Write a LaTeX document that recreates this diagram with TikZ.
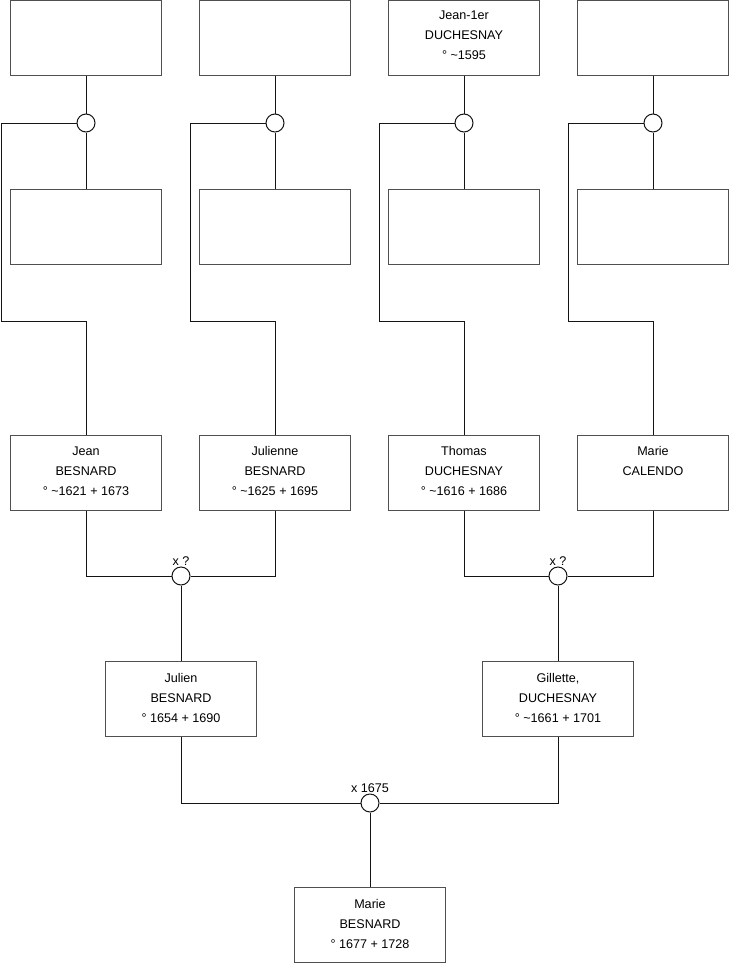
\documentclass[tikz,border=0pt]{standalone}
\usepackage{fontspec}
\setmainfont{Liberation Sans}
\definecolor{boxgray}{RGB}{80,80,80}
\definecolor{wiregray}{RGB}{20,20,20}
\begin{document}
\begin{tikzpicture}[x=1pt,y=-1pt,
  pbox/.style={rectangle, draw=boxgray, line width=1pt, fill=white, minimum width=151pt, minimum height=75pt, inner sep=0pt},
  ptext/.style={anchor=north, align=center, font=\fontsize{12.6}{20}\selectfont, inner sep=0pt},
  wire/.style={draw=wiregray, line width=1pt},
  knot/.style={circle, draw=wiregray, fill=white, minimum size=18pt, inner sep=0pt, line width=1pt},
  mlabel/.style={font=\fontsize{12.6}{15}\selectfont, inner sep=1pt, label distance=0pt}]
\useasboundingbox[fill=white] (0,0) rectangle (740,975);

% coordinates of the elbows
\coordinate (c1) at (1,321);
\coordinate (c2) at (190,321);
\coordinate (c3) at (379,321);
\coordinate (c4) at (568,321);

% top row (fathers of the grand-parents)
\node[pbox] (t1) at (86,38) {};
\node[pbox] (t2) at (275,38) {};
\node[pbox] (t3) at (464,38) {};
\node[pbox] (t4) at (653,38) {};
\node[ptext] at ([yshift=-11]t3.north) {Jean-1er\\DUCHESNAY\\° \textasciitilde 1595};

% second row (mothers)
\node[pbox] (s1) at (86,227) {};
\node[pbox] (s2) at (275,227) {};
\node[pbox] (s3) at (464,227) {};
\node[pbox] (s4) at (653,227) {};

% union knots of top generation
\node[knot] (k1) at (86,123) {};
\node[knot] (k2) at (275,123) {};
\node[knot] (k3) at (464,123) {};
\node[knot] (k4) at (653,123) {};

% grand-parents
\node[pbox] (p1) at (86,472.5) {};
\node[ptext] at ([yshift=-12]p1.north) {Jean\\BESNARD\\° \textasciitilde 1621 + 1673};
\node[pbox] (p2) at (275,472.5) {};
\node[ptext] at ([yshift=-12]p2.north) {Julienne\\BESNARD\\° \textasciitilde 1625 + 1695};
\node[pbox] (p3) at (464,472.5) {};
\node[ptext] at ([yshift=-12]p3.north) {Thomas\\DUCHESNAY\\° \textasciitilde 1616 + 1686};
\node[pbox] (p4) at (653,472.5) {};
\node[ptext] at ([yshift=-12]p4.north) {Marie\\CALENDO};

% unions of grand-parents
\node[knot, label={[mlabel]above:x ?}] (m1) at (181,576) {};
\node[knot, label={[mlabel]above:x ?}] (m2) at (558,576) {};

% parents
\node[pbox] (q1) at (181,699) {};
\node[ptext] at ([yshift=-12]q1.north) {Julien\\BESNARD\\° 1654 + 1690};
\node[pbox] (q2) at (558,699) {};
\node[ptext] at ([yshift=-12]q2.north) {Gillette,\\DUCHESNAY\\° \textasciitilde 1661 + 1701};

\node[knot, label={[mlabel]above:x 1675}] (m0) at (370,803) {};

\node[pbox] (r) at (370,925) {};
\node[ptext] at ([yshift=-12]r.north) {Marie\\BESNARD\\° 1677 + 1728};

% connectors, top generation
\foreach \i in {1,2,3,4}{
  \draw[wire] (t\i.south) -- (k\i.north);
  \draw[wire] (k\i.south) -- (s\i.north);
  \draw[wire] (k\i.west) -| (c\i) -| (p\i.north);
}

% grand-parents to unions
\draw[wire] (p1.south) |- (m1.west);
\draw[wire] (p2.south) |- (m1.east);
\draw[wire] (p3.south) |- (m2.west);
\draw[wire] (p4.south) |- (m2.east);
\draw[wire] (m1.south) -- (q1.north);
\draw[wire] (m2.south) -- (q2.north);

% parents to union
\draw[wire] (q1.south) |- (m0.west);
\draw[wire] (q2.south) |- (m0.east);
\draw[wire] (m0.south) -- (r.north);
\end{tikzpicture}
\end{document}
